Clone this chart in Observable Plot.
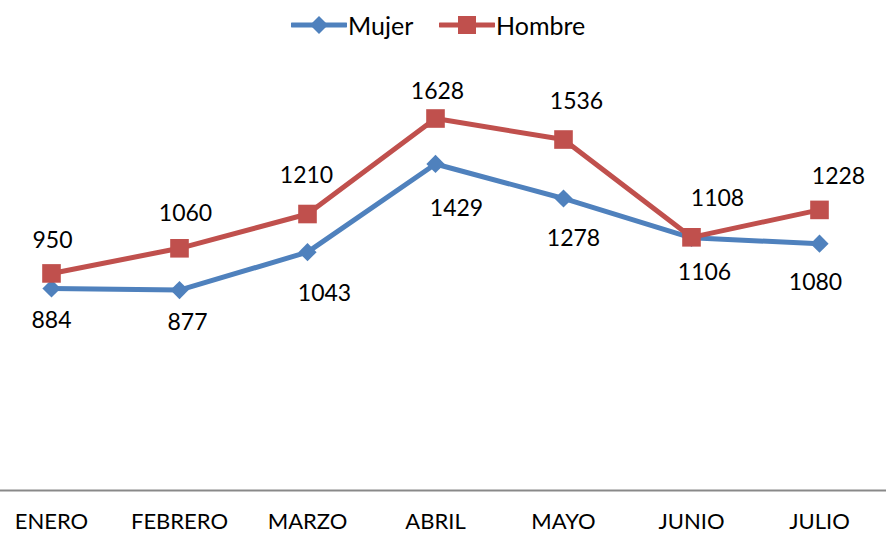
<!DOCTYPE html>
<html>
<head>
<meta charset="utf-8">
<script src="https://cdn.jsdelivr.net/npm/d3@7"></script>
<script src="https://cdn.jsdelivr.net/npm/@observablehq/plot@0.6"></script>
<style>
  html, body { margin: 0; padding: 0; background: #fff; }
  body { width: 886px; height: 535px; overflow: hidden; font-family: Lato, "Open Sans", sans-serif; }
  #legend { position: relative; width: 886px; height: 48px; }
  .item { position: absolute; top: 10px; display: flex; align-items: center; font-size: 25px; color: #000; line-height: 30px; }
  .item svg { display: block; margin-right: 1px; }
</style>
</head>
<body>
<div id="legend"></div>
<div id="chart"></div>
<script>
// ---- data ----
const months = ["ENERO", "FEBRERO", "MARZO", "ABRIL", "MAYO", "JUNIO", "JULIO"];
const mujer  = [884, 877, 1043, 1429, 1278, 1106, 1080];
const hombre = [950, 1060, 1210, 1628, 1536, 1108, 1228];
const seriesNames = ["Mujer", "Hombre"];

// ---- styles ----
const blue = "#4F81BD";
const red = "#C0504D";
// per-label offsets (as placed in the reference)
const mujerOffsets  = [[0, 32], [8, 33], [17, 41], [21, 45], [10, 40], [13, 35], [-4, 39]];
const hombreOffsets = [[1, -33], [6, -35], [-1, -38], [2, -27], [13, -38], [26, -39], [19, -33]];

const mujerData = months.map((m, i) => ({month: m, value: mujer[i]}));
const hombreData = months.map((m, i) => ({month: m, value: hombre[i]}));

// ---- legend ----
const legend = document.getElementById("legend");
function addItem(left, name, color, shape) {
  const div = document.createElement("div");
  div.className = "item";
  div.style.left = left + "px";
  const marker = shape === "diamond"
    ? `<polygon points="28,1 37,10 28,19 19,10" fill="${color}"/>`
    : `<rect x="19" y="1" width="18" height="18" fill="${color}"/>`;
  div.innerHTML = `<svg width="56" height="20"><line x1="1" y1="10" x2="55" y2="10" stroke="${color}" stroke-width="5" stroke-linecap="round"/>${marker}</svg><span>${name}</span>`;
  legend.appendChild(div);
}
addItem(291, seriesNames[0], blue, "diamond");
addItem(439, seriesNames[1], red, "square");

// ---- chart ----
const base = 442;
const k = 0.2285;
const labelMarks = [];
mujerData.forEach((d, i) => labelMarks.push(Plot.text([d], {
  x: "month", y: "value", text: d => String(d.value),
  dx: mujerOffsets[i][0], dy: mujerOffsets[i][1], fontSize: 23, fill: "#000"
})));
hombreData.forEach((d, i) => labelMarks.push(Plot.text([d], {
  x: "month", y: "value", text: d => String(d.value),
  dx: hombreOffsets[i][0], dy: hombreOffsets[i][1], fontSize: 23, fill: "#000"
})));

const chart = Plot.plot({
  width: 886,
  height: 487,
  marginLeft: 0, marginRight: 0, marginTop: 0, marginBottom: 0,
  style: { fontFamily: "Lato, 'Open Sans', sans-serif", background: "#fff", overflow: "visible" },
  x: { type: "point", domain: months, range: [48, 821], padding: 0, axis: null },
  y: { domain: [0, 1800], range: [base, base - 1800 * k], axis: null },
  marks: [
    Plot.ruleY([0], { stroke: "#898989", strokeWidth: 2 }),
    Plot.text(months, { x: d => d, y: d => 0, dy: 31, fontSize: 22, fill: "#000" }),
    Plot.line(mujerData, { x: "month", y: "value", stroke: blue, strokeWidth: 5 }),
    Plot.dot(mujerData, { x: "month", y: "value", symbol: "diamond2", r: 8.2, fill: blue, stroke: "none" }),
    Plot.line(hombreData, { x: "month", y: "value", stroke: red, strokeWidth: 5 }),
    Plot.dot(hombreData, { x: "month", y: "value", symbol: "square", r: 10.5, fill: red, stroke: "none" }),
    ...labelMarks
  ]
});
document.getElementById("chart").appendChild(chart);
</script>
</body>
</html>
